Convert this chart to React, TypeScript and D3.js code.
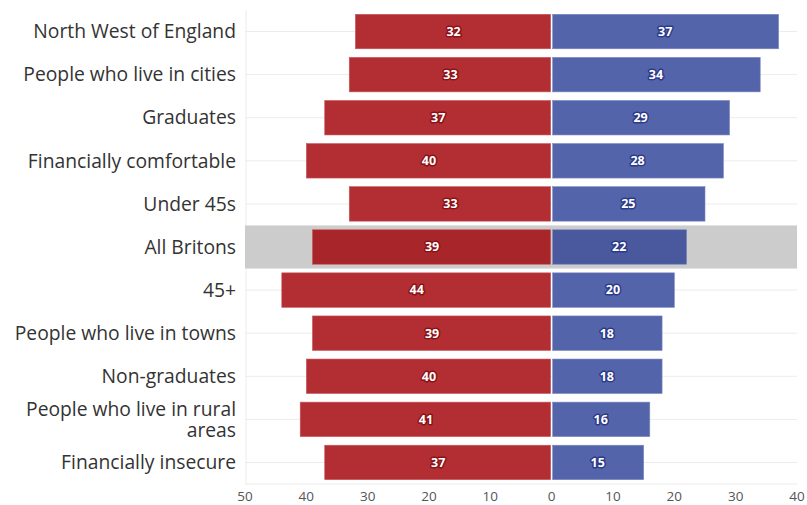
import React from "react";
import * as d3 from "d3";

const categories = [
  "North West of England",
  "People who live in cities",
  "Graduates",
  "Financially comfortable",
  "Under 45s",
  "All Britons",
  "45+",
  "People who live in towns",
  "Non-graduates",
  "People who live in rural areas",
  "Financially insecure",
];
const leftValues = [32, 33, 37, 40, 33, 39, 44, 39, 40, 41, 37];
const rightValues = [37, 34, 29, 28, 25, 22, 20, 18, 18, 16, 15];
const tickValues = [-50, -40, -30, -20, -10, 0, 10, 20, 30, 40];
const highlight = "All Britons";

const W = 807;
const H = 505;
const left = 245;
const right = 797;
const top = 10;
const bottom = 484;

const wrapLabels: Record<string, string[]> = {
  "People who live in rural areas": ["People who live in rural", "areas"],
};

export default function App() {
  const x = d3.scaleLinear().domain([-50, 40]).range([left, right]);
  const y = d3.scaleBand<string>().domain(categories).range([top, bottom]).paddingInner(0.2).paddingOuter(0.1);
  const band = d3.scaleBand<string>().domain(categories).range([top, bottom]);
  const font = "'Open Sans', sans-serif";
  return (
    <svg width={W} height={H} style={{ position: "absolute", left: 0, top: 0, background: "#fff" }}>
      <line x1={left + 1} x2={left + 1} y1={top} y2={bottom} stroke="#ececec" strokeWidth={1} />
      <line x1={left} x2={right} y1={bottom} y2={bottom} stroke="#ececec" strokeWidth={1} />
      {categories.map((c) => (
        <line key={"g" + c} x1={left} x2={right} y1={band(c)! + band.bandwidth() / 2} y2={band(c)! + band.bandwidth() / 2} stroke="#ececec" strokeWidth={1} />
      ))}
      <rect x={left} y={band(highlight)} width={right - left} height={band.bandwidth()} fill="#cccccc" />
      {categories.map((c, i) => {
        const hi = c === highlight;
        const cy = y(c)! + y.bandwidth() / 2;
        const lv = leftValues[i];
        const rv = rightValues[i];
        const redFill = hi ? "#a82629" : "#b22e33";
        const blueFill = hi ? "#4a599e" : "#5464aa";
        const lines = wrapLabels[c] || [c];
        return (
          <g key={c}>
            <rect x={x(-lv)} y={y(c)} width={x(0) - x(-lv) - 1} height={y.bandwidth()} fill={redFill} stroke="#c8575b" strokeWidth={0.6} />
            <rect x={x(0) + 1} y={y(c)} width={x(rv) - x(0) - 1} height={y.bandwidth()} fill={blueFill} stroke="#7a86c0" strokeWidth={0.6} />
            <text x={(x(-lv) + x(0)) / 2} y={cy} dy="0.35em" textAnchor="middle" fontFamily={font} fontWeight={700} fontSize={12.5} fill="#fff" stroke="#8a1216" strokeWidth={3} paintOrder="stroke" strokeLinejoin="round">{lv}</text>
            <text x={(x(rv) + x(0)) / 2} y={cy} dy="0.35em" textAnchor="middle" fontFamily={font} fontWeight={700} fontSize={12.5} fill="#fff" stroke="#2c3a88" strokeWidth={3} paintOrder="stroke" strokeLinejoin="round">{rv}</text>
            {lines.map((t, k) => (
              <text key={k} x={236} y={cy + (k - (lines.length - 1) / 2) * 21} dy="0.35em" textAnchor="end" fontFamily={font} fontSize={19.3} fill="#333">{t}</text>
            ))}
          </g>
        );
      })}
      {tickValues.map((t) => (
        <text key={"t" + t} x={x(t)} y={496} dy="0.35em" textAnchor="middle" fontFamily={font} fontSize={13.5} fill="#555">{Math.abs(t)}</text>
      ))}
    </svg>
  );
}
